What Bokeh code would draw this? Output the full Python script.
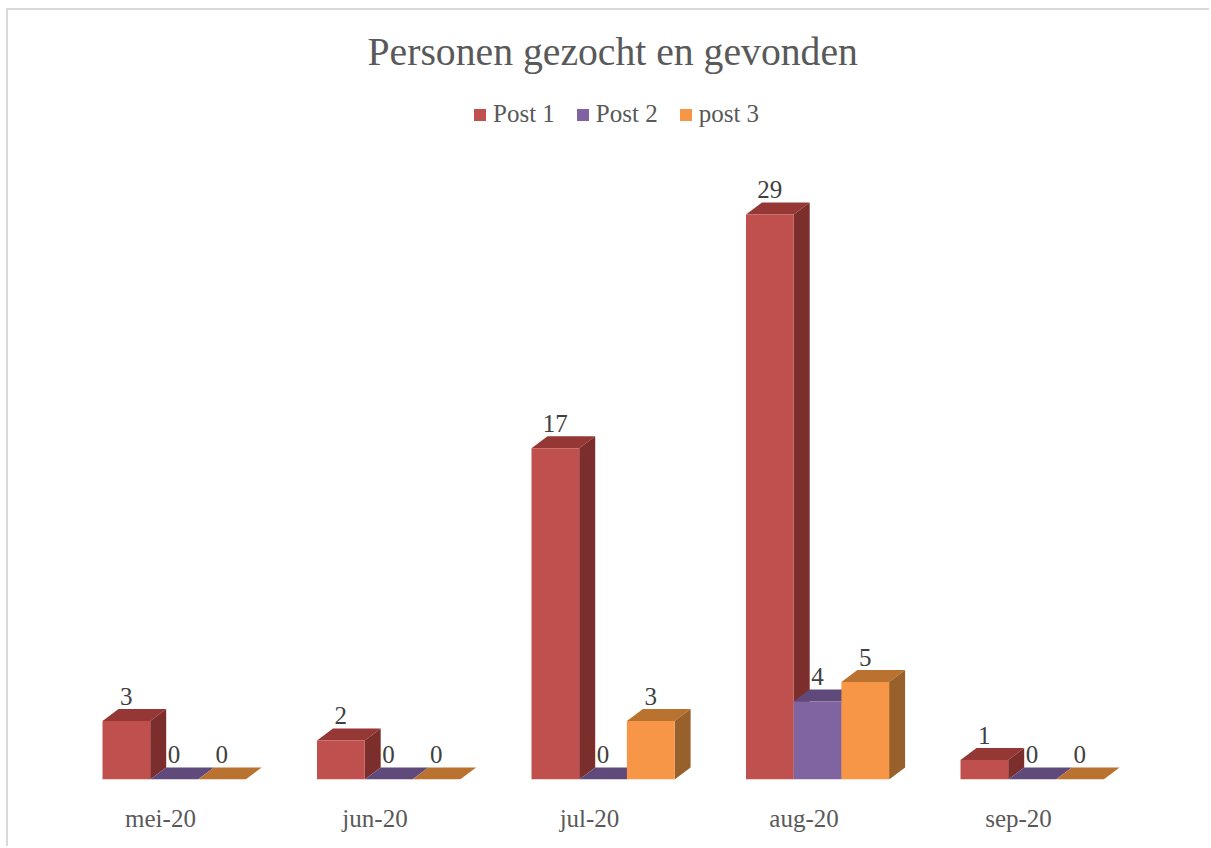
from bokeh.plotting import figure
from bokeh.models import Range1d, Legend, LegendItem, FixedTicker
from bokeh.core.properties import value
from bokeh.embed import file_html
from bokeh.resources import INLINE

months = ["mei-20", "jun-20", "jul-20", "aug-20", "sep-20"]
post1 = [3, 2, 17, 29, 1]
post2 = [0, 0, 0, 4, 0]
post3 = [0, 0, 3, 5, 0]
names = ["Post 1", "Post 2", "post 3"]
front_cols = ["#C0504D", "#8064A2", "#F79646"]
top_cols = ["#953735", "#604A7B", "#B9722F"]
side_cols = ["#7B2E2C", "#4F3D66", "#98602A"]

FONT = "Liberation Serif"
TXT = "#595959"
GROUP_PX = 214.5
UNIT_PX = 19.48
BAR = 47.7 / GROUP_PX
DX = 16 / GROUP_PX
DY = 12 / UNIT_PX
SHIFT = -58 / GROUP_PX

p = figure(width=1203, height=838, output_backend="svg", toolbar_location=None,
           x_range=Range1d(-152 / GROUP_PX, 1051 / GROUP_PX),
           y_range=Range1d(0, 689 / UNIT_PX),
           min_border_left=0, min_border_right=0, min_border_top=80, min_border_bottom=69,
           outline_line_color=None, y_axis_location=None,
           title="Personen gezocht en gevonden")
p.styles = {"margin-left": "6px", "margin-top": "8px",
            "border-left": "2px solid #d9d9d9", "border-top": "2px solid #d9d9d9"}
p.grid.visible = False

p.title.align = "left"
p.title.text_font = FONT
p.title.text_font_size = "39.7px"
p.title.text_font_style = "normal"
p.title.text_color = TXT
p.title.offset = 359
p.title.standoff = 34

ax = p.xaxis[0]
ax.ticker = FixedTicker(ticks=list(range(len(months))))
ax.major_label_overrides = {i: m for i, m in enumerate(months)}
ax.axis_line_color = None
ax.major_tick_line_color = None
ax.minor_tick_line_color = None
ax.major_label_standoff = 19
ax.major_label_text_font = FONT
ax.major_label_text_font_size = "25px"
ax.major_label_text_color = TXT

items = []
for s, vals in enumerate([post1, post2, post3]):
    lefts = [i + SHIFT + s * BAR for i in range(len(vals))]
    rights = [x + BAR for x in lefts]
    p.patches([[l, r, r + DX, l + DX] for l, r in zip(lefts, rights)],
              [[v, v, v + DY, v + DY] for v in vals],
              fill_color=top_cols[s], line_color=None)
    p.patches([[r, r + DX, r + DX, r] for r in rights],
              [[0, DY, v + DY, v] for v in vals],
              fill_color=side_cols[s], line_color=None)
    fr = p.patches([[l, r, r, l] for l, r in zip(lefts, rights)],
                   [[0, 0, v, v] for v in vals],
                   fill_color=front_cols[s], line_color=None)
    items.append(LegendItem(label=names[s], renderers=[fr]))
    p.text([x + BAR / 2 for x in lefts], vals, text=[str(v) for v in vals],
           text_font=value(FONT), text_font_size="25px", text_color="#404040",
           text_align="center", text_baseline="alphabetic", y_offset=-25)

leg = Legend(items=items, orientation="horizontal", location=(464, 651), border_line_color=None,
             background_fill_alpha=0, glyph_width=15, glyph_height=15, label_standoff=6,
             spacing=20, padding=0, margin=0, label_text_font=FONT, label_text_font_size="25px",
             label_text_color=TXT)
p.add_layout(leg, "center")

open("out.html", "w").write(file_html(p, INLINE))
